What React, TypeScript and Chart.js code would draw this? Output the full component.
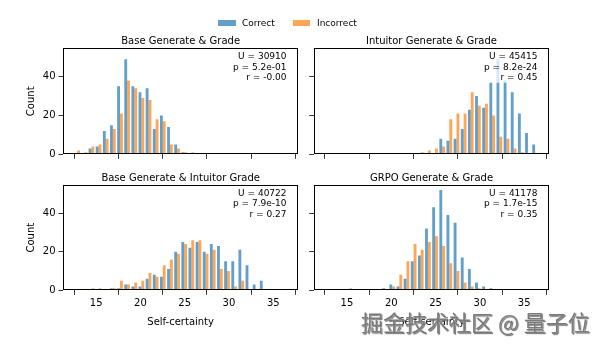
import React, { useEffect, useRef } from "react";
import { Chart, registerables } from "chart.js";

Chart.register(...registerables);
Chart.defaults.font.family = '"DejaVu Sans", sans-serif';

// ---- data ----
const BIN_LEFT = 12.45;
const BIN_WIDTH = 0.806;
const X_TICKS = [15, 20, 25, 30, 35];
const Y_TICKS = [0, 20, 40];
const X_MIN = 11.25;
const X_MAX = 37.83;
const Y_MAX = 54.6;

const baseGradeCorrect = [0, 0, 3, 4, 12, 15, 35, 49, 35, 32, 34, 13, 20, 14, 5, 1, 0, 0, 0, 0, 0, 0, 0, 0, 0, 0, 0, 0, 0, 0];
const baseGradeIncorrect = [2, 1, 4, 5, 8, 13, 21, 38, 34, 29, 28, 18, 17, 5, 3, 1, 1, 0, 0, 0, 0, 0, 0, 0, 0, 0, 0, 0, 0, 0];

const intuitorCorrect = [0, 0, 0, 0, 0, 0, 0, 0, 0, 0, 0, 0, 0, 0, 0, 0, 8, 7, 8, 13, 23, 30, 24, 37, 49, 38, 32, 21, 11, 5];
const intuitorIncorrect = [0, 0, 0, 0, 0, 0, 0, 0, 0, 0, 0, 0, 0, 1, 2, 3, 4, 18, 21, 21, 32, 25, 26, 20, 9, 8, 3, 1, 0, 0];

const baseIntuitorCorrect = [0, 0, 0, 0, 0, 1, 1, 3, 2, 2, 6, 8, 7, 11, 20, 25, 22, 25, 20, 24, 23, 15, 15, 21, 13, 3, 5, 0, 0, 0];
const baseIntuitorIncorrect = [0, 0, 1, 1, 0, 1, 5, 3, 4, 5, 9, 7, 13, 16, 19, 24, 26, 26, 19, 21, 11, 10, 2, 5, 0, 0, 0, 0, 0, 0];

const grpoCorrect = [0, 0, 0, 0, 0, 0, 0, 0, 1, 3, 2, 6, 15, 18, 32, 43, 52, 39, 35, 17, 11, 4, 2, 1, 0, 0, 0, 0, 0, 0];
const grpoIncorrect = [0, 0, 0, 1, 0, 0, 0, 0, 0, 2, 8, 15, 24, 21, 25, 28, 23, 14, 10, 4, 2, 1, 0, 0, 0, 0, 0, 0, 0, 0];

const panelTitles = [
  "Base Generate & Grade",
  "Intuitor Generate & Grade",
  "Base Generate & Intuitor Grade",
  "GRPO Generate & Grade",
];
const panelStats = [
  ["U = 30910", "p = 5.2e-01", "r = -0.00"],
  ["U = 45415", "p = 8.2e-24", "r = 0.45"],
  ["U = 40722", "p = 7.9e-10", "r = 0.27"],
  ["U = 41178", "p = 1.7e-15", "r = 0.35"],
];
const legendLabels = ["Correct", "Incorrect"];
const xLabel = "Self-certainty";
const yLabel = "Count";

const BLUE = "rgba(31,119,180,0.7)";
const ORANGE = "rgba(255,127,14,0.7)";

const W = 606;
const H = 344;

const binCenters = baseGradeCorrect.map((_, i) => BIN_LEFT + BIN_WIDTH * (i + 0.5));

const panels = [
  { title: panelTitles[0], stats: panelStats[0], correct: baseGradeCorrect, incorrect: baseGradeIncorrect,
    box: { left: 63, right: 298.3, top: 48.3, bottom: 154.3 }, showX: false, showY: true },
  { title: panelTitles[1], stats: panelStats[1], correct: intuitorCorrect, incorrect: intuitorIncorrect,
    box: { left: 313.7, right: 549.3, top: 48.3, bottom: 154.3 }, showX: false, showY: false },
  { title: panelTitles[2], stats: panelStats[2], correct: baseIntuitorCorrect, incorrect: baseIntuitorIncorrect,
    box: { left: 63, right: 298.3, top: 185, bottom: 290.3 }, showX: true, showY: true },
  { title: panelTitles[3], stats: panelStats[3], correct: grpoCorrect, incorrect: grpoIncorrect,
    box: { left: 313.7, right: 549.3, top: 185, bottom: 290.3 }, showX: true, showY: false },
];

const panelDecor = {
  id: "panelDecor",
  afterDatasetsDraw(chart: any, _args: any, opts: any) {
    const { ctx, chartArea: a } = chart;
    const w = a.right - a.left;
    const h = a.bottom - a.top;
    ctx.save();
    // stats text with translucent box
    ctx.font = '9px "DejaVu Sans"';
    const xr = a.right - 0.05 * w;
    const maxW = Math.max(...opts.stats.map((s: string) => ctx.measureText(s).width));
    ctx.fillStyle = "rgba(255,255,255,0.75)";
    ctx.fillRect(xr - maxW - 3, a.top + 3, maxW + 6, 31.5);
    ctx.fillStyle = "#000";
    ctx.textAlign = "right";
    ctx.textBaseline = "middle";
    opts.stats.forEach((s: string, i: number) => ctx.fillText(s, xr, a.top + 8.5 + i * 10.5));
    // title
    ctx.font = '10px "DejaVu Sans"';
    ctx.textAlign = "center";
    ctx.textBaseline = "alphabetic";
    ctx.fillText(opts.title, (a.left + a.right) / 2, a.top - 4);
    // frame
    ctx.strokeStyle = "#000";
    ctx.lineWidth = 1;
    const l = Math.round(a.left) + 0.5;
    const t = Math.round(a.top) + 0.5;
    const r = Math.round(a.right) - 0.5;
    const b = Math.round(a.bottom) - 0.5;
    ctx.strokeRect(l, t, r - l, b - t);
    ctx.restore();
  },
};

function Panel({ p }: { p: any }) {
  const ref = useRef<HTMLCanvasElement | null>(null);
  useEffect(() => {
    if (!ref.current) return;
    const box = p.box;
    const chart = new Chart(ref.current, {
      type: "bar",
      data: {
        datasets: [
          {
            label: legendLabels[0],
            data: binCenters.map((x, i) => ({ x, y: p.correct[i] })),
            backgroundColor: BLUE,
            borderWidth: 0,
          },
          {
            label: legendLabels[1],
            data: binCenters.map((x, i) => ({ x, y: p.incorrect[i] })),
            backgroundColor: ORANGE,
            borderWidth: 0,
          },
        ],
      } as any,
      options: {
        animation: false,
        responsive: false,
        devicePixelRatio: 1,
        layout: { padding: { left: 0, top: box.top, right: W - box.right, bottom: 0 } },
        datasets: { bar: { categoryPercentage: 0.8, barPercentage: 1.0 } },
        plugins: {
          legend: { display: false },
          title: { display: false },
          tooltip: { enabled: false },
          panelDecor: { title: p.title, stats: p.stats },
        } as any,
        scales: {
          x: {
            type: "linear",
            min: X_MIN,
            max: X_MAX,
            offset: false,
            afterBuildTicks: (s: any) => {
              s.ticks = X_TICKS.map((v) => ({ value: v }));
            },
            afterFit: (s: any) => {
              s.height = H - box.bottom;
            },
            grid: { display: true, drawOnChartArea: false, drawTicks: true, tickLength: 4.5, color: "#000", lineWidth: 0.8 },
            border: { display: false },
            ticks: { display: p.showX, color: "#000", font: { size: 10 }, padding: 3, maxRotation: 0, autoSkip: false },
            title: { display: p.showX, text: xLabel, color: "#000", font: { size: 10 }, padding: { top: 0, bottom: 16 } },
          },
          y: {
            type: "linear",
            min: 0,
            max: Y_MAX,
            afterBuildTicks: (s: any) => {
              s.ticks = Y_TICKS.map((v) => ({ value: v }));
            },
            afterFit: (s: any) => {
              s.width = box.left;
            },
            grid: { display: true, drawOnChartArea: false, drawTicks: true, tickLength: 4.5, color: "#000", lineWidth: 0.8 },
            border: { display: false },
            ticks: { display: p.showY, color: "#000", font: { size: 10 }, padding: 3 },
            title: { display: p.showY, text: yLabel, color: "#000", font: { size: 10 }, padding: { top: 25, bottom: 0 } },
          },
        },
      } as any,
      plugins: [panelDecor as any],
    });
    return () => chart.destroy();
  }, [p]);
  return (
    <canvas
      ref={ref}
      width={W}
      height={H}
      style={{ position: "absolute", left: 0, top: 0, width: W, height: H }}
    />
  );
}

export default function App() {
  const legendText: React.CSSProperties = {
    position: "absolute",
    top: 17,
    fontFamily: '"DejaVu Sans", sans-serif',
    fontSize: 9,
    lineHeight: "12px",
    color: "#000",
    whiteSpace: "nowrap",
  };
  return (
    <div style={{ position: "fixed", left: 0, top: 0, width: W, height: H, background: "#fff", overflow: "hidden" }}>
      {panels.map((p, i) => (
        <Panel key={i} p={p} />
      ))}
      <div style={{ position: "absolute", left: 218.3, top: 20, width: 17.5, height: 6, background: BLUE }} />
      <div style={{ ...legendText, left: 242 }}>{legendLabels[0]}</div>
      <div style={{ position: "absolute", left: 292.7, top: 20, width: 17.5, height: 6, background: ORANGE }} />
      <div style={{ ...legendText, left: 317 }}>{legendLabels[1]}</div>
      <div
        style={{
          position: "absolute",
          left: 361,
          top: 306,
          fontFamily: '"Noto Sans CJK SC", sans-serif',
          fontSize: 22,
          lineHeight: "30px",
          color: "#7a7a7a",
          whiteSpace: "nowrap",
          textShadow: "0 0 2px #fff, 1px 1px 1px #444",
        }}
      >
        掘金技术社区 @ 量子位
      </div>
    </div>
  );
}
